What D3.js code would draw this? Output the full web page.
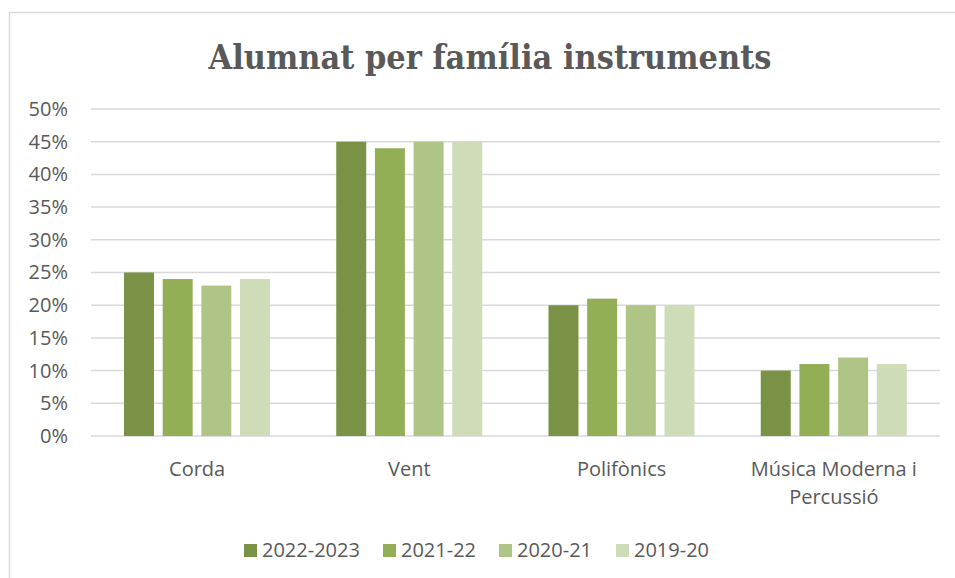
<!DOCTYPE html>
<html>
<head>
<meta charset="utf-8">
<script src="https://cdn.jsdelivr.net/npm/d3@7"></script>
<style>
  html, body { margin: 0; padding: 0; background: #fff; }
  svg { display: block; }
  text { fill: #595959; font-family: "Open Sans", sans-serif; }
</style>
</head>
<body>
<svg id="chart" width="955" height="578"></svg>
<script>
// Chart data
const categories = ["Corda", "Vent", "Polifònics", "Música Moderna i Percussió"];
const series = ["2022-2023", "2021-22", "2020-21", "2019-20"];
const values2022_23 = [0.25, 0.45, 0.20, 0.10];
const values2021_22 = [0.24, 0.44, 0.21, 0.11];
const values2020_21 = [0.23, 0.45, 0.20, 0.12];
const values2019_20 = [0.24, 0.45, 0.20, 0.11];
const yTicks = [0, 0.05, 0.10, 0.15, 0.20, 0.25, 0.30, 0.35, 0.40, 0.45, 0.50];
const colors = ["#7a9245", "#93af56", "#afc586", "#cfdcb8"];

const seriesValues = [values2022_23, values2021_22, values2020_21, values2019_20];

const svg = d3.select("#chart");
const plot = { left: 91, right: 940, top: 109, bottom: 436 };

// outer chart border
svg.append("rect")
    .attr("x", 9.5).attr("y", 12.5)
    .attr("width", 1000).attr("height", 620)
    .attr("fill", "none")
    .attr("stroke", "#d9d9d9")
    .attr("stroke-width", 1.5);

// title
svg.append("text")
    .attr("x", 490).attr("y", 69)
    .attr("text-anchor", "middle")
    .attr("textLength", 563)
    .attr("lengthAdjust", "spacingAndGlyphs")
    .style("font-family", "'DejaVu Serif', 'Liberation Serif', serif")
    .style("font-weight", "bold")
    .style("font-size", "33px")
    .text("Alumnat per família instruments");

const y = d3.scaleLinear().domain([0, 0.5]).range([plot.bottom, plot.top]);
const x0 = d3.scaleBand().domain(categories).range([plot.left, plot.right]);
const x1 = d3.scaleBand().domain(series).range([33, 179]).paddingInner(0.225);

// gridlines
svg.append("g")
    .selectAll("line")
    .data(yTicks)
    .join("line")
    .attr("x1", plot.left).attr("x2", plot.right)
    .attr("y1", d => y(d)).attr("y2", d => y(d))
    .attr("stroke", "#d9d9d9")
    .attr("stroke-width", 1.5);

// y axis labels
const yAxis = svg.append("g")
    .attr("transform", `translate(${plot.left},0)`)
    .call(d3.axisLeft(y).tickValues(yTicks).tickFormat(d3.format(".0%")).tickSize(0).tickPadding(23));
yAxis.select(".domain").remove();
yAxis.selectAll("text")
    .style("font-size", "20px")
    .style("font-family", "'Open Sans', sans-serif")
    .attr("fill", "#595959");

// bars
const groups = svg.append("g")
    .selectAll("g")
    .data(categories)
    .join("g")
    .attr("transform", d => `translate(${x0(d)},0)`);

groups.selectAll("rect")
    .data((c, i) => series.map((s, j) => ({ s, j, v: seriesValues[j][i] })))
    .join("rect")
    .attr("x", d => x1(d.s))
    .attr("width", x1.bandwidth())
    .attr("y", d => y(d.v))
    .attr("height", d => y(0) - y(d.v))
    .attr("fill", d => colors[d.j]);

// category labels
const catLabels = svg.append("g")
    .selectAll("text")
    .data(categories)
    .join("text")
    .attr("x", d => x0(d) + x0.bandwidth() / 2)
    .attr("y", 476)
    .attr("text-anchor", "middle")
    .style("font-size", "20px");
catLabels.each(function(d) {
    const t = d3.select(this);
    const cx = x0(d) + x0.bandwidth() / 2;
    if (d === "Música Moderna i Percussió") {
        t.append("tspan").attr("x", cx).attr("dy", 0).text("Música Moderna i");
        t.append("tspan").attr("x", cx).attr("dy", 28).text("Percussió");
    } else {
        t.text(d);
    }
});

// legend
const legendX = [244, 383, 499, 616];
const legend = svg.append("g")
    .selectAll("g")
    .data(series)
    .join("g")
    .attr("transform", (d, i) => `translate(${legendX[i]},544)`);
legend.append("rect")
    .attr("width", 13).attr("height", 13)
    .attr("fill", (d, i) => colors[i]);
legend.append("text")
    .attr("x", 18).attr("y", 13)
    .style("font-size", "20px")
    .text(d => d);
</script>
</body>
</html>
